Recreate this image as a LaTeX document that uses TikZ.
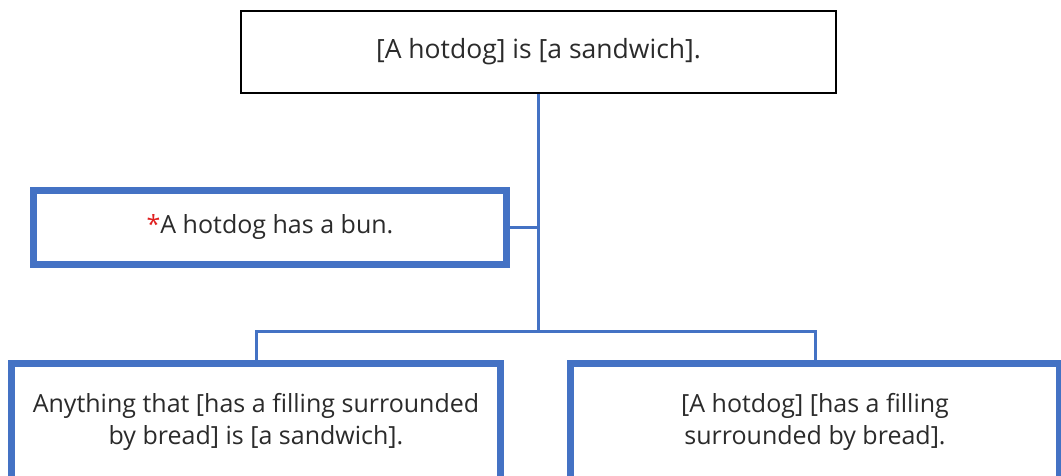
\documentclass[tikz,border=0pt]{standalone}
\usepackage{fontspec}
\setmainfont{Open Sans}
\definecolor{obl}{HTML}{4472C4}
\definecolor{astred}{HTML}{E02020}
\definecolor{txt}{HTML}{2B2B2B}
\begin{document}
\begin{tikzpicture}[x=1pt,y=1pt,
  basebox/.style={rectangle, inner sep=0pt, align=center, text=txt,
    font=\fontsize{25}{32}\selectfont},
  claimbox/.style={basebox, draw=black, line width=2pt, font=\fontsize{26.5}{32}\selectfont},
  bluebox/.style={basebox, draw=obl, line width=7pt, fill=white},
  link/.style={draw=obl, line width=3pt}]
\useasboundingbox (0,0) rectangle (1061,476);
\node[claimbox, minimum width=595pt, minimum height=82pt] (top) at (538.5,424) {[A hotdog] is [a sandwich].};
\node[bluebox, minimum width=473pt, minimum height=74pt] (mid) at (270,248.5) {\textcolor{astred}{*}A hotdog has a bun.};
\node[bluebox, minimum width=489pt, minimum height=116pt] (bl) at (256,54.5) {Anything that [has a filling surrounded\\by bread] is [a sandwich].};
\node[bluebox, minimum width=489pt, minimum height=116pt] (br) at (815,54.5) {[A hotdog] [has a filling\\surrounded by bread].};
\coordinate (j) at (top.south |- 0,144);
\draw[link] (top.south) -- (j);
\draw[link] (mid.east) -- (mid.east -| j);
\draw[link] (bl.north) |- (j) -| (br.north);
\end{tikzpicture}
\end{document}
